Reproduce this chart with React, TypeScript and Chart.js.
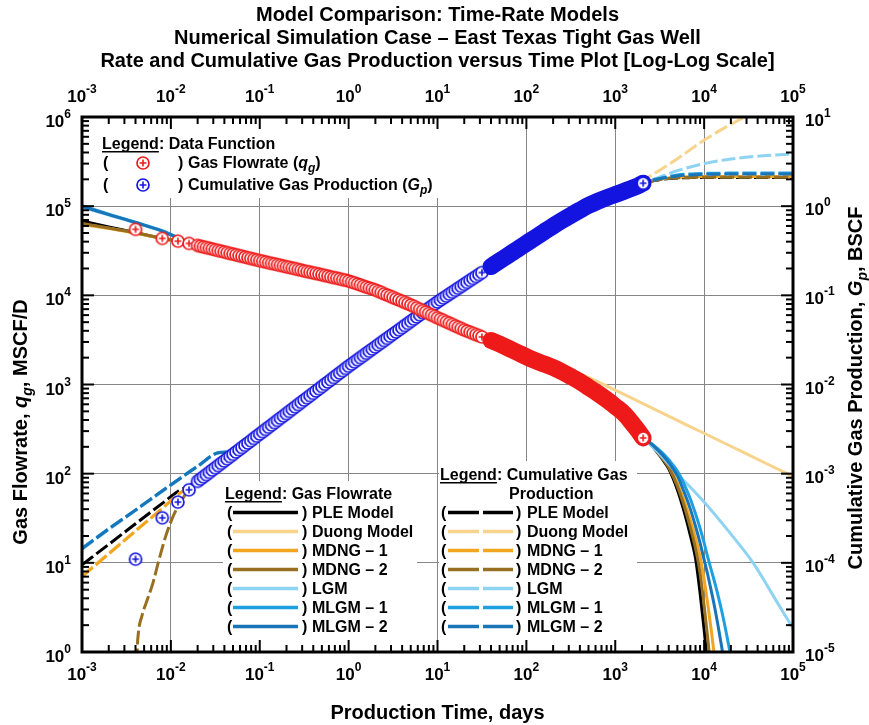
import React, { useEffect, useRef } from 'react';
import { Chart, registerables } from 'chart.js';

Chart.register(...registerables);

const FAMILY = '"Liberation Sans", Arial, Helvetica, sans-serif';

// ---------------- axes ----------------
const timeDecades = [1e-3, 1e-2, 1e-1, 1, 10, 100, 1e3, 1e4, 1e5];
const timeExponents = [-3, -2, -1, 0, 1, 2, 3, 4, 5];
const rateDecades = [1, 10, 100, 1e3, 1e4, 1e5, 1e6];
const rateExponents = [0, 1, 2, 3, 4, 5, 6];
const cumDecades = [1e-5, 1e-4, 1e-3, 1e-2, 1e-1, 1, 10];
const cumExponents = [-5, -4, -3, -2, -1, 0, 1];

const titleLines = [
  'Model Comparison: Time-Rate Models',
  'Numerical Simulation Case \u2013 East Texas Tight Gas Well',
  'Rate and Cumulative Gas Production versus Time Plot [Log-Log Scale]',
];
const modelNames = ['PLE Model', 'Duong Model', 'MDNG \u2013 1', 'MDNG \u2013 2', 'LGM', 'MLGM \u2013 1', 'MLGM \u2013 2'];
const modelColors = ['#000000', '#F8D38C', '#F2A51E', '#967020', '#8FD3F2', '#1EA0E0', '#1A75B8'];
const rateColor = '#EE1A1A';
const cumColor = '#1414E0';

// ---------------- data (days, MSCF/D, BSCF) ----------------
const dataTime = [
  0.004, 0.008, 0.012, 0.016,
  0.01995, 0.02154, 0.02326, 0.02512, 0.02712, 0.02929, 0.03162, 0.03415, 0.03687, 0.03981,
  0.04299, 0.04642, 0.05012, 0.05412, 0.05843, 0.0631, 0.06813, 0.07356, 0.07943, 0.08577, 0.09261,
  0.1, 0.108, 0.1166, 0.1259, 0.1359, 0.1468, 0.1585, 0.1711, 0.1848, 0.1995,
  0.2154, 0.2326, 0.2512, 0.2712, 0.2929, 0.3162, 0.3415, 0.3687, 0.3981, 0.4299,
  0.4642, 0.5012, 0.5412, 0.5843, 0.631, 0.6813, 0.7356, 0.7943, 0.8577, 0.9261,
  1, 1.08, 1.166, 1.259, 1.359, 1.468, 1.585, 1.711, 1.848, 1.995,
  2.154, 2.326, 2.512, 2.712, 2.929, 3.162, 3.415, 3.687, 3.981, 4.299,
  4.642, 5.012, 5.412, 5.843, 6.31, 6.813, 7.356, 7.943, 8.577, 9.261,
  10, 10.8, 11.66, 12.59, 13.59, 14.68, 15.85, 17.11, 18.48, 19.95,
  21.54, 23.26, 25.12, 27.12, 29.29, 31.62,
  40, 50, 63, 80, 100, 126, 158, 200, 251, 316, 398, 501, 631, 794, 1000, 1260, 1580, 1800, 2060,
];
const rateData = [
  55000, 43500, 40500, 38200,
  36300, 35600, 34950, 34300, 33700, 33100, 32400, 31800, 31300, 30700,
  30100, 29500, 29000, 28500, 27900, 27400, 26900, 26400, 25900, 25400, 25000,
  24500, 24100, 23700, 23200, 22800, 22500, 22100, 21700, 21300, 20900,
  20600, 20200, 19900, 19500, 19200, 18800, 18500, 18200, 17900, 17600,
  17300, 17000, 16700, 16400, 16100, 15800, 15600, 15300, 15000, 14800,
  14500, 14100, 13800, 13400, 13100, 12700, 12400, 12100, 11800, 11500,
  11100, 10800, 10400, 10100, 9780, 9470, 9170, 8880, 8600, 8320,
  8060, 7800, 7520, 7250, 6980, 6730, 6490, 6250, 6030, 5810,
  5600, 5410, 5230, 5050, 4880, 4710, 4550, 4390, 4250, 4100,
  3980, 3860, 3740, 3630, 3530, 3420,
  3120, 2850, 2550, 2280, 2050, 1850, 1700, 1550, 1390, 1230, 1080, 930, 800, 680, 570, 470, 360, 305, 252,
];
const cumData = [
  1.1e-4, 3.2e-4, 4.8e-4, 6.6e-4,
  8.2e-4, 8.69e-4, 9.22e-4, 9.77e-4, 1.035e-3, 1.098e-3, 1.164e-3, 1.233e-3, 1.308e-3, 1.386e-3,
  1.469e-3, 1.558e-3, 1.651e-3, 1.751e-3, 1.856e-3, 1.967e-3, 2.085e-3, 2.211e-3, 2.343e-3, 2.484e-3, 2.634e-3,
  2.792e-3, 2.959e-3, 3.137e-3, 3.325e-3, 3.525e-3, 3.737e-3, 3.961e-3, 4.199e-3, 4.451e-3, 4.718e-3,
  5.0e-3, 5.303e-3, 5.621e-3, 5.958e-3, 6.317e-3, 6.696e-3, 7.097e-3, 7.525e-3, 7.976e-3, 8.455e-3,
  8.964e-3, 9.502e-3, 1.007e-2, 1.068e-2, 1.132e-2, 1.2e-2, 1.272e-2, 1.348e-2, 1.429e-2, 1.515e-2,
  1.606e-2, 1.697e-2, 1.794e-2, 1.896e-2, 2.004e-2, 2.118e-2, 2.238e-2, 2.365e-2, 2.5e-2, 2.642e-2,
  2.792e-2, 2.95e-2, 3.118e-2, 3.295e-2, 3.482e-2, 3.68e-2, 3.889e-2, 4.11e-2, 4.343e-2, 4.59e-2,
  4.851e-2, 5.126e-2, 5.418e-2, 5.726e-2, 6.051e-2, 6.395e-2, 6.758e-2, 7.141e-2, 7.547e-2, 7.976e-2,
  8.429e-2, 8.868e-2, 9.328e-2, 9.813e-2, 0.1032, 0.1086, 0.1142, 0.1201, 0.1264, 0.133,
  0.1399, 0.1472, 0.1548, 0.1628, 0.1713, 0.1802,
  0.21, 0.243, 0.283, 0.33, 0.383, 0.444, 0.515, 0.6, 0.69, 0.79, 0.9, 1.02, 1.13, 1.24, 1.35, 1.47, 1.6, 1.69, 1.81,
];
const denseFromTime = 40;

// ---------------- models: rate (MSCF/D) ----------------
const rateMid = [[0.02, 36300], [0.05, 29000], [0.1, 24500], [0.3, 19100], [1, 14500], [3, 9950], [10, 5600], [30, 3500], [100, 2050], [300, 1240], [1000, 570], [1500, 370], [2060, 252]];
const pleRateEarly = [[0.001, 68000], [0.002, 58500], [0.004, 50500], [0.008, 43500], [0.012, 40500]];
const duongRateEarly = [[0.001, 62000], [0.002, 56000], [0.004, 49500], [0.008, 43000], [0.012, 40000]];
const mdng1RateEarly = [[0.001, 63000], [0.002, 56500], [0.004, 50000], [0.008, 43500], [0.012, 40300]];
const mdng2RateEarly = [[0.001, 64000], [0.002, 57000], [0.004, 50300], [0.008, 43500], [0.012, 40300]];
const lgmRateEarly = [[0.001, 97000], [0.002, 79500], [0.004, 65000], [0.008, 52000], [0.012, 44000]];
const mlgm1RateEarly = [[0.001, 101000], [0.002, 81500], [0.004, 66000], [0.008, 53000], [0.012, 44500]];
const mlgm2RateEarly = [[0.001, 99000], [0.002, 80500], [0.004, 65500], [0.008, 52500], [0.012, 44000]];

const pleRateLate = [[2500, 212], [3000, 171], [3500, 139], [4000, 113], [5000, 66], [6000, 36.6], [7000, 20.3], [8000, 11.3], [9000, 4.6], [10000, 1.78], [11000, 0.68], [12000, 0.26], [14000, 0.03]];
const duongRateLate = [[200, 1750], [300, 1500], [500, 1200], [700, 1030], [1000, 865], [2000, 618], [5000, 395], [10000, 284], [20000, 203], [50000, 130], [100000, 93]];
const mdng1RateLate = [[2500, 214], [3000, 176], [3500, 145], [4000, 120], [5000, 77.8], [6000, 48.4], [7000, 30.1], [8000, 18.8], [9000, 11.7], [10000, 6.5], [11000, 3.4], [12000, 1.79], [13000, 0.94], [14000, 0.49], [16000, 0.13]];
const mdng2RateLate = [[2500, 213], [3000, 174], [3500, 143], [4000, 117], [5000, 72.5], [6000, 42.5], [7000, 24.8], [8000, 14.5], [9000, 7.7], [10000, 3.3], [11000, 1.4], [12000, 0.6], [13000, 0.26], [15000, 0.05]];
const lgmRateLate = [[2500, 210], [3000, 175], [5000, 100], [10000, 48], [20000, 21], [35600, 10], [50000, 5.8], [70000, 3.3], [100000, 1.85]];
const mlgm1RateLate = [[2500, 221], [3000, 191], [3500, 166], [4000, 143], [5000, 107], [6000, 75], [7000, 52], [8000, 35.5], [9000, 24.4], [10000, 16.7], [11000, 11.5], [12000, 8.4], [13000, 6.3], [14000, 4.75], [16000, 2.7], [18000, 1.53], [20000, 0.87], [25000, 0.2]];
const mlgm2RateLate = [[2500, 219], [3000, 185], [3500, 157], [4000, 133], [5000, 94.5], [6000, 61], [7000, 40], [8000, 25.7], [9000, 16.7], [10000, 10.8], [11000, 7.3], [12000, 4.9], [13000, 3.35], [14000, 2.26], [16000, 1.04], [18000, 0.48], [20000, 0.22], [25000, 0.03]];

// ---------------- models: cumulative (BSCF) ----------------
const cumMid = [[0.02, 8.2e-4], [0.05, 1.65e-3], [0.1, 2.79e-3], [0.3, 6.4e-3], [1, 1.6e-2], [3, 3.6e-2], [10, 8.41e-2], [30, 0.173], [100, 0.383], [300, 0.77], [1000, 1.35], [1500, 1.6], [2060, 1.81]];
const pleCumEarly = [[0.001, 9.5e-5], [0.002, 1.61e-4], [0.004, 2.74e-4], [0.008, 4.65e-4], [0.012, 6.3e-4]];
const duongCumEarly = [[0.001, 7.2e-5], [0.002, 1.28e-4], [0.004, 2.3e-4], [0.008, 4.1e-4], [0.012, 5.85e-4]];
const mdng1CumEarly = [[0.001, 7.0e-5], [0.002, 1.26e-4], [0.004, 2.27e-4], [0.008, 4.07e-4], [0.012, 5.8e-4]];
const mdng2CumEarly = [[0.0041, 3e-6], [0.00418, 1e-5], [0.0043, 1.6e-5], [0.0047, 2.5e-5], [0.0055, 4.0e-5], [0.0063, 6.0e-5], [0.0072, 1.0e-4], [0.0089, 2.1e-4], [0.011, 3.6e-4], [0.0138, 5.4e-4]];
const lgmCumEarly = [[0.001, 1.42e-4], [0.002, 2.36e-4], [0.004, 3.85e-4], [0.008, 6.3e-4], [0.012, 8.4e-4], [0.02, 1.2e-3], [0.0357, 1.72e-3], [0.05, 1.74e-3], [0.1, 2.9e-3]];
const mlgm1CumEarly = [[0.001, 1.46e-4], [0.002, 2.42e-4], [0.004, 3.92e-4], [0.008, 6.45e-4], [0.012, 8.55e-4], [0.02, 1.22e-3], [0.0357, 1.74e-3], [0.05, 1.76e-3], [0.1, 2.92e-3]];
const mlgm2CumEarly = [[0.001, 1.44e-4], [0.002, 2.4e-4], [0.004, 3.9e-4], [0.008, 6.4e-4], [0.012, 8.5e-4], [0.02, 1.21e-3], [0.0357, 1.73e-3], [0.05, 1.75e-3], [0.1, 2.91e-3]];

const pleCumLate = [[2500, 1.9], [3000, 1.97], [4000, 2.04], [5000, 2.07], [7000, 2.09], [10000, 2.1], [100000, 2.1]];
const duongCumLate = [[1500, 1.65], [2060, 1.95], [3000, 2.45], [5000, 3.4], [10000, 5.5], [20000, 8.3], [30000, 10.2], [50000, 13]];
const mdng1CumLate = [[2500, 1.91], [3000, 1.99], [4000, 2.07], [5000, 2.11], [7000, 2.14], [10000, 2.15], [100000, 2.15]];
const mdng2CumLate = [[2500, 1.9], [3000, 1.97], [4000, 2.05], [5000, 2.08], [7000, 2.1], [10000, 2.11], [100000, 2.11]];
const lgmCumLate = [[2500, 1.95], [3000, 2.08], [5000, 2.5], [10000, 3.0], [20000, 3.38], [50000, 3.7], [100000, 3.84]];
const mlgm1CumLate = [[2500, 1.93], [3000, 2.03], [4000, 2.15], [5000, 2.23], [7000, 2.3], [10000, 2.33], [20000, 2.35], [100000, 2.36]];
const mlgm2CumLate = [[2500, 1.92], [3000, 2.01], [4000, 2.12], [5000, 2.18], [7000, 2.24], [10000, 2.27], [20000, 2.29], [100000, 2.3]];

const modelRates = [
  [...pleRateEarly, ...rateMid, ...pleRateLate],
  [...duongRateEarly, ...rateMid.slice(0, 9), ...duongRateLate],
  [...mdng1RateEarly, ...rateMid, ...mdng1RateLate],
  [...mdng2RateEarly, ...rateMid, ...mdng2RateLate],
  [...lgmRateEarly, ...rateMid, ...lgmRateLate],
  [...mlgm1RateEarly, ...rateMid, ...mlgm1RateLate],
  [...mlgm2RateEarly, ...rateMid, ...mlgm2RateLate],
];
const modelCums = [
  [...pleCumEarly, ...cumMid, ...pleCumLate],
  [...duongCumEarly, ...cumMid.slice(0, 11), ...duongCumLate],
  [...mdng1CumEarly, ...cumMid, ...mdng1CumLate],
  [...mdng2CumEarly, ...cumMid, ...mdng2CumLate],
  [...lgmCumEarly, ...cumMid.slice(3), ...lgmCumLate],
  [...mlgm1CumEarly, ...cumMid.slice(3), ...mlgm1CumLate],
  [...mlgm2CumEarly, ...cumMid.slice(3), ...mlgm2CumLate],
];

// ---------------- layout constants ----------------
const legendMasks = [
  [84, 119, 452, 198],
  [223, 481, 417, 650],
  [439, 461, 637, 650],
];

type Part = { t: string; i?: boolean; s?: boolean; u?: boolean };

function partFont(p: Part, size: number) {
  const sz = p.s ? Math.round(size * 0.72) : size;
  return `${p.i ? 'italic ' : ''}bold ${sz}px ${FAMILY}`;
}
function richWidth(ctx: CanvasRenderingContext2D, parts: Part[], size: number) {
  let w = 0;
  for (const p of parts) { ctx.font = partFont(p, size); w += ctx.measureText(p.t).width; }
  return w;
}
function drawRich(ctx: CanvasRenderingContext2D, parts: Part[], x: number, y: number, size: number, align: 'left' | 'center' = 'left') {
  ctx.textAlign = 'left';
  let cx = align === 'center' ? x - richWidth(ctx, parts, size) / 2 : x;
  for (const p of parts) {
    ctx.font = partFont(p, size);
    const w = ctx.measureText(p.t).width;
    ctx.fillText(p.t, cx, p.s ? y + size * 0.25 : y);
    if (p.u) ctx.fillRect(cx, y + 2, w, 1.5);
    cx += w;
  }
}
function drawPow(ctx: CanvasRenderingContext2D, e: number, x: number, y: number, align: 'left' | 'center' | 'right') {
  ctx.textAlign = 'left';
  const ex = String(e);
  ctx.font = `bold 17px ${FAMILY}`;
  const wb = ctx.measureText('10').width;
  ctx.font = `bold 12px ${FAMILY}`;
  const we = ctx.measureText(ex).width;
  const tot = wb + we;
  const left = align === 'center' ? x - tot / 2 : align === 'right' ? x - tot : x;
  ctx.font = `bold 17px ${FAMILY}`;
  ctx.fillText('10', left, y);
  ctx.font = `bold 12px ${FAMILY}`;
  ctx.fillText(ex, left + wb, y - 9);
}

function makeMarker(color: string) {
  const c = document.createElement('canvas');
  c.width = 16; c.height = 16;
  const g = c.getContext('2d')!;
  g.beginPath();
  g.arc(8, 8, 6, 0, Math.PI * 2);
  g.fillStyle = '#fff';
  g.fill();
  g.lineWidth = 1.7;
  g.strokeStyle = color;
  g.stroke();
  g.beginPath();
  g.moveTo(4.6, 8); g.lineTo(11.4, 8);
  g.moveTo(8, 4.6); g.lineTo(8, 11.4);
  g.lineWidth = 1.6;
  g.stroke();
  return c;
}

const toXY = (arr: number[][]) => arr.map(([x, y]) => ({ x, y }));

export default function App() {
  const ref = useRef<HTMLCanvasElement>(null);

  useEffect(() => {
    const canvas = ref.current!;
    const redMarker = makeMarker(rateColor);
    const blueMarker = makeMarker(cumColor);

    const ratePts = dataTime.map((t, i) => ({ x: t, y: rateData[i] }));
    const cumPts = dataTime.map((t, i) => ({ x: t, y: cumData[i] }));
    const last = dataTime.length - 1;
    const modelOrder = [9, 8, 7, 6, 5, 4, 3];

    const datasets: any[] = [];
    datasets.push({ data: [ratePts[last]], yAxisID: 'y', pointStyle: redMarker, pointRadius: 7, showLine: false, order: 0 });
    datasets.push({ data: [cumPts[last]], yAxisID: 'y2', pointStyle: blueMarker, pointRadius: 7, showLine: false, order: 0 });
    datasets.push({
      data: ratePts.filter((p) => p.x >= denseFromTime), yAxisID: 'y', showLine: true, borderColor: rateColor,
      borderWidth: 17, borderCapStyle: 'round', borderJoinStyle: 'round', pointRadius: 0, order: 1, cubicInterpolationMode: 'monotone',
    });
    datasets.push({
      data: cumPts.filter((p) => p.x >= denseFromTime), yAxisID: 'y2', showLine: true, borderColor: cumColor,
      borderWidth: 17, borderCapStyle: 'round', borderJoinStyle: 'round', pointRadius: 0, order: 1, cubicInterpolationMode: 'monotone',
    });
    datasets.push({ data: ratePts, yAxisID: 'y', pointStyle: redMarker, pointRadius: 7, showLine: false, order: 2 });
    datasets.push({ data: cumPts, yAxisID: 'y2', pointStyle: blueMarker, pointRadius: 7, showLine: false, order: 2 });
    modelRates.forEach((arr, i) => {
      datasets.push({
        data: toXY(arr), yAxisID: 'y', showLine: true, borderColor: modelColors[i], borderWidth: 3,
        pointRadius: 0, order: modelOrder[i], clip: 0, cubicInterpolationMode: 'monotone',
      });
    });
    modelCums.forEach((arr, i) => {
      datasets.push({
        data: toXY(arr), yAxisID: 'y2', showLine: true, borderColor: modelColors[i], borderWidth: 3, borderDash: [14, 4],
        pointRadius: 0, order: modelOrder[i], clip: 0, cubicInterpolationMode: 'monotone',
      });
    });

    const decadeTicks = (vals: number[]) => (scale: any) => { scale.ticks = vals.map((v) => ({ value: v })); };
    const gridOpts = { color: '#858585', lineWidth: 1, drawTicks: false };

    const overlay = {
      id: 'overlay',
      beforeDatasetsDraw(chart: any) {
        const ctx = chart.ctx as CanvasRenderingContext2D;
        ctx.save();
        ctx.fillStyle = '#ffffff';
        for (const [x0, y0, x1, y1] of legendMasks) ctx.fillRect(x0, y0, x1 - x0, y1 - y0);
        ctx.restore();
      },
      afterDraw(chart: any) {
        const ctx = chart.ctx as CanvasRenderingContext2D;
        const a = chart.chartArea;
        const xs = chart.scales.x, ys = chart.scales.y, y2s = chart.scales.y2;
        ctx.save();
        ctx.fillStyle = '#000';
        ctx.strokeStyle = '#000';
        ctx.textBaseline = 'alphabetic';

        // ticks (inward)
        ctx.lineWidth = 2;
        const seg = (x0: number, y0: number, x1: number, y1: number) => { ctx.beginPath(); ctx.moveTo(x0, y0); ctx.lineTo(x1, y1); ctx.stroke(); };
        const mults = [2, 3, 4, 5, 6, 7, 8, 9];
        timeDecades.forEach((d, i) => {
          const p = xs.getPixelForValue(d);
          seg(p, a.bottom, p, a.bottom - 12); seg(p, a.top, p, a.top + 12);
          if (i < timeDecades.length - 1) mults.forEach((m) => { const q = xs.getPixelForValue(d * m); seg(q, a.bottom, q, a.bottom - 7); seg(q, a.top, q, a.top + 7); });
        });
        rateDecades.forEach((d, i) => {
          const p = ys.getPixelForValue(d);
          seg(a.left, p, a.left + 12, p);
          if (i < rateDecades.length - 1) mults.forEach((m) => { const q = ys.getPixelForValue(d * m); seg(a.left, q, a.left + 7, q); });
        });
        cumDecades.forEach((d, i) => {
          const p = y2s.getPixelForValue(d);
          seg(a.right, p, a.right - 12, p);
          if (i < cumDecades.length - 1) mults.forEach((m) => { const q = y2s.getPixelForValue(d * m); seg(a.right, q, a.right - 7, q); });
        });

        // frame
        ctx.lineWidth = 3;
        ctx.strokeRect(a.left, a.top, a.right - a.left, a.bottom - a.top);

        // tick labels
        timeDecades.forEach((v, i) => {
          const p = xs.getPixelForValue(v);
          drawPow(ctx, timeExponents[i], p, a.bottom + 28, 'center');
          drawPow(ctx, timeExponents[i], p, a.top - 15, 'center');
        });
        rateDecades.forEach((v, i) => drawPow(ctx, rateExponents[i], a.left - 11, ys.getPixelForValue(v) + 10, 'right'));
        cumDecades.forEach((v, i) => drawPow(ctx, cumExponents[i], a.right + 12, y2s.getPixelForValue(v) + 9, 'left'));

        // titles
        const cx = (a.left + a.right) / 2;
        titleLines.forEach((t, i) => drawRich(ctx, [{ t }], cx, 21 + i * 23, 20, 'center'));
        drawRich(ctx, [{ t: 'Production Time, days' }], cx, 719, 20, 'center');
        ctx.save();
        ctx.translate(27, 422);
        ctx.rotate(-Math.PI / 2);
        drawRich(ctx, [{ t: 'Gas Flowrate, ' }, { t: 'q', i: true }, { t: 'g', i: true, s: true }, { t: ', MSCF/D' }], 0, 0, 20, 'center');
        ctx.restore();
        ctx.save();
        ctx.translate(862, 388);
        ctx.rotate(-Math.PI / 2);
        drawRich(ctx, [{ t: 'Cumulative Gas Production, ' }, { t: 'G', i: true }, { t: 'p', i: true, s: true }, { t: ', BSCF' }], 0, 0, 20, 'center');
        ctx.restore();

        // data legend
        const L = 16;
        drawRich(ctx, [{ t: 'Legend', u: true }, { t: ': Data Function' }], 102, 149, L);
        const dataRows: [number, HTMLCanvasElement, Part[]][] = [
          [163, redMarker, [{ t: 'Gas Flowrate (' }, { t: 'q', i: true }, { t: 'g', i: true, s: true }, { t: ')' }]],
          [185, blueMarker, [{ t: 'Cumulative Gas Production (' }, { t: 'G', i: true }, { t: 'p', i: true, s: true }, { t: ')' }]],
        ];
        dataRows.forEach(([cy, mk, parts]) => {
          drawRich(ctx, [{ t: '(' }], 103, cy + 5, L);
          ctx.drawImage(mk, 143 - mk.width / 2, cy - mk.height / 2);
          drawRich(ctx, [{ t: ')' }], 178, cy + 5, L);
          drawRich(ctx, parts, 188, cy + 5, L);
        });

        // model legends
        drawRich(ctx, [{ t: 'Legend', u: true }, { t: ': Gas Flowrate' }], 225, 499, L);
        drawRich(ctx, [{ t: 'Legend', u: true }, { t: ': Cumulative Gas' }], 440, 480, L);
        drawRich(ctx, [{ t: 'Production' }], 509, 499, L);
        modelNames.forEach((name, i) => {
          const cy = 512.5 + i * 19;
          ctx.fillStyle = '#000';
          drawRich(ctx, [{ t: '(' }], 227, cy + 5, L);
          drawRich(ctx, [{ t: ')' }], 302, cy + 5, L);
          drawRich(ctx, [{ t: name }], 312, cy + 5, L);
          drawRich(ctx, [{ t: '(' }], 441, cy + 5, L);
          drawRich(ctx, [{ t: ')' }], 516, cy + 5, L);
          drawRich(ctx, [{ t: name }], 527, cy + 5, L);
          ctx.strokeStyle = modelColors[i];
          ctx.lineWidth = 3.5;
          seg(233, cy, 298, cy);
          seg(448, cy, 479, cy);
          seg(483, cy, 513, cy);
        });
        ctx.restore();
      },
    };

    const chart = new Chart(canvas, {
      type: 'scatter',
      data: { datasets },
      options: {
        responsive: false,
        animation: false,
        events: [],
        layout: { padding: { left: 82, right: 76, top: 117, bottom: 73 } },
        plugins: { legend: { display: false }, tooltip: { enabled: false }, title: { display: false } },
        scales: {
          x: {
            type: 'logarithmic', position: 'bottom', min: 1e-3, max: 1e5,
            afterBuildTicks: decadeTicks(timeDecades), ticks: { display: false }, grid: gridOpts, border: { display: false },
          },
          y: {
            type: 'logarithmic', position: 'left', min: 1, max: 1e6,
            afterBuildTicks: decadeTicks(rateDecades), ticks: { display: false }, grid: gridOpts, border: { display: false },
          },
          y2: {
            type: 'logarithmic', position: 'right', min: 1e-5, max: 10,
            afterBuildTicks: decadeTicks(cumDecades), ticks: { display: false }, grid: { display: false, drawTicks: false }, border: { display: false },
          },
        },
      } as any,
      plugins: [overlay],
    });
    return () => chart.destroy();
  }, []);

  return (
    <div style={{ position: 'fixed', left: 0, top: 0, width: 869, height: 725, background: '#fff' }}>
      <canvas ref={ref} width={869} height={725} style={{ display: 'block' }} />
    </div>
  );
}
